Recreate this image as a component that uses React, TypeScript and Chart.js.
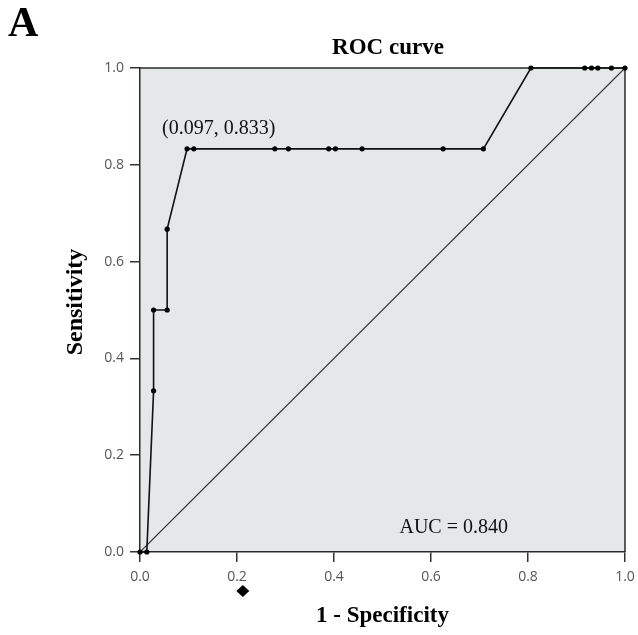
import React, { useEffect, useRef } from "react";
import { Chart, registerables } from "chart.js";

Chart.register(...registerables);

// 1 - Specificity (x) and Sensitivity (y) of the ROC curve points
const fpr = [0, 0.014, 0.028, 0.028, 0.056, 0.056, 0.097, 0.111, 0.278, 0.306, 0.389, 0.403, 0.458, 0.625, 0.708, 0.806, 0.917, 0.931, 0.944, 0.972, 1.0];
const tpr = [0, 0, 0.333, 0.5, 0.5, 0.667, 0.833, 0.833, 0.833, 0.833, 0.833, 0.833, 0.833, 0.833, 0.833, 1.0, 1.0, 1.0, 1.0, 1.0, 1.0];
const refX = [0, 1];
const refY = [0, 1];
const tickValues = [0, 0.2, 0.4, 0.6, 0.8, 1.0];
const diamondX = 0.212;

const panelLabel = "A";
const chartTitle = "ROC curve";
const xTitle = "1 - Specificity";
const yTitle = "Sensitivity";
const cutoffLabel = "(0.097, 0.833)";
const cutoffPoint = { x: 0.097, y: 0.833 };
const aucLabel = "AUC = 0.840";
const aucPos = { x: 0.535, y: 0.04 };

const SERIF = '"Liberation Serif", "Times New Roman", serif';

const decoPlugin = {
  id: "deco",
  beforeDraw(chart: any) {
    const { ctx, chartArea: a } = chart;
    ctx.save();
    ctx.fillStyle = "#e4e8e9";
    ctx.fillRect(a.left, a.top, a.right - a.left, a.bottom - a.top);
    ctx.strokeStyle = "#2a2a2a";
    ctx.lineWidth = 1.5;
    ctx.beginPath();
    ctx.moveTo(a.left, a.top);
    ctx.lineTo(a.right, a.top);
    ctx.lineTo(a.right, a.bottom);
    ctx.stroke();
    ctx.restore();
  },
  afterDraw(chart: any) {
    const { ctx, chartArea: a, scales } = chart;
    const xs = scales.x;
    const ys = scales.y;
    ctx.save();
    ctx.fillStyle = "#000";
    ctx.textAlign = "left";
    ctx.textBaseline = "alphabetic";
    ctx.font = `bold 42px ${SERIF}`;
    ctx.fillText(panelLabel, 8, 36);

    ctx.textAlign = "center";
    ctx.font = `bold 23px ${SERIF}`;
    ctx.fillText(chartTitle, 388, 54);
    ctx.font = `bold 23px ${SERIF}`;
    ctx.fillText(xTitle, (a.left + a.right) / 2, 622);

    ctx.save();
    ctx.translate(82, 302);
    ctx.rotate(-Math.PI / 2);
    ctx.font = `bold 24px ${SERIF}`;
    ctx.fillText(yTitle, 0, 0);
    ctx.restore();

    ctx.textAlign = "left";
    ctx.font = `20px ${SERIF}`;
    ctx.fillStyle = "#111";
    ctx.fillText(cutoffLabel, xs.getPixelForValue(cutoffPoint.x) - 25, ys.getPixelForValue(cutoffPoint.y) - 15);
    ctx.fillText(aucLabel, xs.getPixelForValue(aucPos.x), ys.getPixelForValue(aucPos.y));

    // diamond marker below the x axis
    const dx = xs.getPixelForValue(diamondX);
    const dy = 591;
    ctx.fillStyle = "#000";
    ctx.beginPath();
    ctx.moveTo(dx, dy - 6);
    ctx.lineTo(dx + 6.5, dy);
    ctx.lineTo(dx, dy + 6);
    ctx.lineTo(dx - 6.5, dy);
    ctx.closePath();
    ctx.fill();
    ctx.restore();
  },
};

export default function App() {
  const ref = useRef<HTMLCanvasElement>(null);
  useEffect(() => {
    document.body.style.margin = "0";
    const canvas = ref.current;
    if (!canvas) return;
    const tickFont = { family: '"Open Sans", "DejaVu Sans", sans-serif', size: 14 };
    const chart = new Chart(canvas, {
      type: "scatter",
      data: {
        datasets: [
          {
            label: "ROC",
            data: fpr.map((x, i) => ({ x, y: tpr[i] })),
            showLine: true,
            borderColor: "#111",
            borderWidth: 1.6,
            pointRadius: 2.6,
            pointBackgroundColor: "#000",
            pointBorderColor: "#000",
            pointBorderWidth: 0,
            clip: false as any,
          },
          {
            label: "Reference",
            data: refX.map((x, i) => ({ x, y: refY[i] })),
            showLine: true,
            borderColor: "#3a3a3a",
            borderWidth: 1.1,
            pointRadius: 0,
            clip: false as any,
          },
        ],
      },
      options: {
        animation: false,
        responsive: false,
        layout: { padding: { top: 68, right: 13, left: 0, bottom: 0 } },
        plugins: { legend: { display: false }, tooltip: { enabled: false }, title: { display: false } },
        scales: {
          x: {
            type: "linear",
            min: 0,
            max: 1,
            afterBuildTicks: (s: any) => {
              s.ticks = tickValues.map((v) => ({ value: v }));
            },
            afterFit: (s: any) => {
              s.height = 83;
              s.paddingLeft = 0;
              s.paddingRight = 0;
            },
            ticks: {
              font: tickFont,
              color: "#555",
              padding: 7,
              maxRotation: 0,
              callback: (v: any) => Number(v).toFixed(1),
            },
            grid: { drawOnChartArea: false, drawTicks: true, tickLength: 10, color: "#333", lineWidth: 1.5 },
            border: { color: "#2a2a2a", width: 1.5 },
          },
          y: {
            type: "linear",
            min: 0,
            max: 1,
            afterBuildTicks: (s: any) => {
              s.ticks = tickValues.map((v) => ({ value: v }));
            },
            afterFit: (s: any) => {
              s.width = 140;
              s.paddingTop = 0;
              s.paddingBottom = 0;
            },
            ticks: {
              font: tickFont,
              color: "#555",
              padding: 6,
              callback: (v: any) => Number(v).toFixed(1),
            },
            grid: { drawOnChartArea: false, drawTicks: true, tickLength: 10, color: "#333", lineWidth: 1.5 },
            border: { color: "#2a2a2a", width: 1.5 },
          },
        },
      },
      plugins: [decoPlugin],
    } as any);
    return () => chart.destroy();
  }, []);
  return (
    <div style={{ width: 638, height: 635 }}>
      <canvas ref={ref} width={638} height={635} />
    </div>
  );
}
